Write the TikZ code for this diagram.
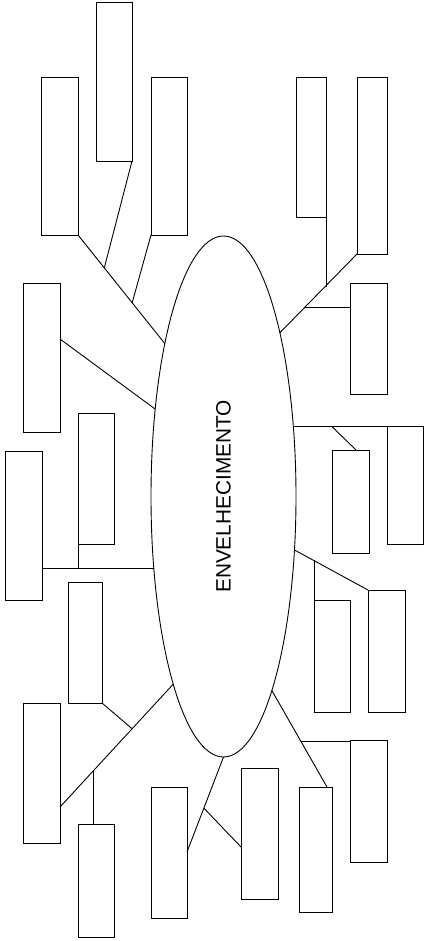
\documentclass[tikz,border=0pt]{standalone}
\usepackage{fontspec}
\setmainfont{Liberation Sans}
\usetikzlibrary{positioning, calc, shapes.geometric}

\tikzset{
  topic/.style={draw, rectangle, inner sep=0pt, outer sep=0pt, minimum width=36pt, anchor=north west},
  theme/.style={draw, ellipse, inner sep=0pt, outer sep=0pt, minimum width=145pt, minimum height=521pt}
}

\begin{document}
\begin{tikzpicture}[x=1pt, y=-1pt, line width=0.9pt]
\useasboundingbox (0,0) rectangle (429,941);
\node[theme] (env) at (223.5,496.5)
  {\rotatebox{90}{\fontsize{20.8}{25}\selectfont ENVELHECIMENTO}};
\coordinate (e1) at (env.111.3);
\coordinate (e2) at (env.128.8);
\coordinate (e3) at (env.226.6);
\coordinate (e4) at (env.255.4);
\coordinate (e5) at (env.270);
\coordinate (e6) at (env.284.5);
\coordinate (e7) at (env.323.2);
\coordinate (e8) at (env.45.3);
\coordinate (e9) at (env.71);

% left side
\node[topic, minimum height=159pt] (t1) at (96,2) {};
\node[topic, minimum width=37pt, minimum height=158pt] (t2) at (41,77) {};
\node[topic, minimum height=158pt] (t3) at (151,77) {};
\node[topic, minimum width=37pt, minimum height=149pt] (t4) at (23,283) {};
\node[topic, minimum height=131pt] (t5) at (78,413) {};
\node[topic, minimum width=37pt, minimum height=149pt] (t6) at (5,451) {};
\node[topic, minimum width=34pt, minimum height=121pt] (t7) at (68,582) {};
\node[topic, minimum width=37pt, minimum height=140pt] (t8) at (23,703) {};
\node[topic, minimum height=113pt] (t9) at (78,824) {};
\node[topic, minimum height=131pt] (t10) at (151,787) {};
% right side
\node[topic, minimum width=37pt, minimum height=131pt] (t11) at (241,768) {};
\node[topic, minimum width=33pt, minimum height=125pt] (t12) at (299,787) {};
\node[topic, minimum width=37pt, minimum height=122pt] (t13) at (350,740) {};
\node[topic, minimum height=112pt] (t14) at (314,600) {};
\node[topic, minimum width=37pt, minimum height=122pt] (t15) at (368,590) {};
\node[topic, minimum height=118pt] (t16) at (387,426) {};
\node[topic, minimum width=37pt, minimum height=103pt] (t17) at (332,450) {};
\node[topic, minimum width=37pt, minimum height=111pt] (t18) at (350,283) {};
\node[topic, minimum width=30pt, minimum height=177pt] (t19) at (357,77) {};
\node[topic, minimum width=30pt, minimum height=140pt] (t20) at (296,77) {};

% branches
\draw (e1) -- (t2.south east);
\coordinate (j1) at ($(t2.south east)!0.303!(e1)$);
\coordinate (j2) at ($(t2.south east)!0.624!(e1)$);
\draw (t1.south east) -- (j1);
\draw (t3.south west) -- (j2);

\draw ([yshift=-56pt]t4.north east) -- (e2);

\draw (t6.east |- e3) -- (e3);
\draw (t5.south west) -- (t5.south west |- e3);

\coordinate (h1) at ([yshift=-104pt]t8.north east);
\draw (e4) -- (h1);
\coordinate (j4) at ($(e4)!0.363!(h1)$);
\coordinate (j5) at ($(e4)!0.708!(h1)$);
\draw (t7.south east) -- (j4);
\draw (j5) -- (j5 |- t9.north);

\coordinate (h2) at ([yshift=-65pt]t10.north east);
\draw (e5) -- (h2);
\coordinate (j6) at ($(e5)!0.538!(h2)$);
\draw (j6) -- ([yshift=-79pt]t11.north west);

\coordinate (h3) at ([xshift=-5pt]t12.north east);
\draw (e6) -- (h3);
\coordinate (j7) at ($(e6)!0.525!(h3)$);
\draw (j7) -- (j7 -| t13.west);

\draw (e7) -- (t15.north west);
\coordinate (j8) at ($(e7)!0.26!(t15.north west)$);
\draw (t14.north west) -- (t14.north west |- j8);

\draw (e8) -- (e8 -| t16.west);
\draw (t17.north west |- e8) -- ([xshift=24pt]t17.north west);

\draw (e9) -- (t19.south west);
\coordinate (j10) at ($(e9)!0.584!(t19.south west)$);
\coordinate (j11) at ($(e9)!0.325!(t19.south west)$);
\draw (t20.south east) -- (t20.south east |- j10);
\draw (j11) -- (j11 -| t18.west);
\end{tikzpicture}
\end{document}
